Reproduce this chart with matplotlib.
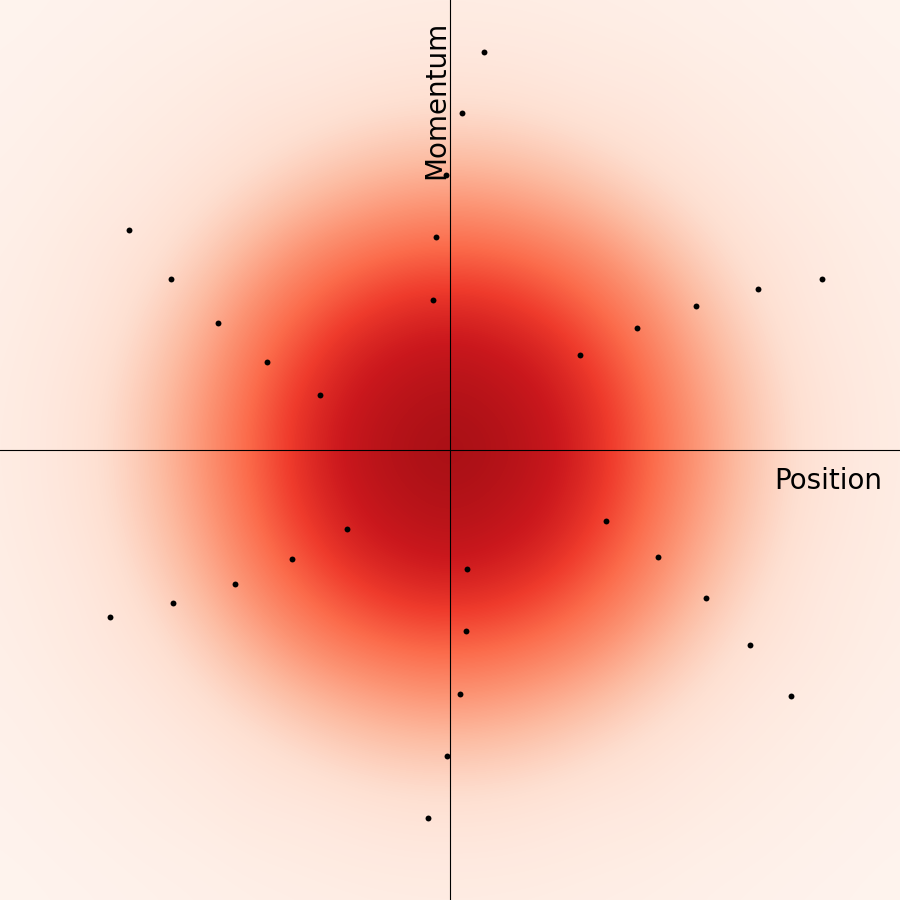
import numpy as np
import matplotlib
matplotlib.use('Agg')
import matplotlib.pyplot as plt

# estimated intensity, one cell every 50 px, top row first
density = [
 [.010,.015,.018,.025,.030,.036,.040,.045,.048,.050,.048,.045,.040,.036,.030,.025,.018,.015,.010],
 [.015,.020,.027,.035,.040,.052,.060,.070,.078,.080,.078,.070,.060,.052,.040,.035,.027,.020,.015],
 [.018,.027,.035,.045,.058,.078,.085,.100,.115,.120,.115,.100,.085,.078,.058,.045,.035,.027,.018],
 [.025,.035,.045,.060,.080,.105,.140,.180,.210,.220,.210,.180,.140,.105,.080,.060,.045,.035,.025],
 [.030,.040,.058,.080,.115,.170,.240,.300,.340,.360,.340,.300,.240,.170,.115,.080,.058,.040,.030],
 [.036,.052,.078,.105,.170,.270,.370,.440,.490,.510,.490,.440,.370,.270,.170,.105,.078,.052,.036],
 [.040,.060,.085,.140,.240,.370,.480,.580,.650,.670,.650,.580,.480,.370,.240,.140,.085,.060,.040],
 [.045,.070,.100,.180,.300,.440,.580,.700,.750,.780,.750,.700,.580,.440,.300,.180,.100,.070,.045],
 [.048,.078,.115,.210,.340,.490,.650,.750,.810,.840,.810,.750,.650,.490,.340,.210,.115,.078,.048],
 [.050,.080,.120,.220,.360,.510,.670,.780,.840,.870,.840,.780,.670,.510,.360,.220,.120,.080,.050],
 [.048,.078,.115,.210,.340,.490,.650,.750,.810,.840,.810,.750,.650,.490,.340,.210,.115,.078,.048],
 [.045,.070,.100,.180,.300,.440,.580,.700,.750,.780,.750,.700,.580,.440,.300,.180,.100,.070,.045],
 [.040,.060,.085,.140,.240,.370,.480,.580,.650,.670,.650,.580,.480,.370,.240,.140,.085,.060,.040],
 [.036,.052,.078,.105,.170,.270,.370,.440,.490,.510,.490,.440,.370,.270,.170,.105,.078,.052,.036],
 [.030,.040,.058,.080,.115,.170,.240,.300,.340,.360,.340,.300,.240,.170,.115,.080,.058,.040,.030],
 [.025,.035,.045,.060,.080,.105,.140,.180,.210,.220,.210,.180,.140,.105,.080,.060,.045,.035,.025],
 [.018,.027,.035,.045,.058,.078,.085,.100,.115,.120,.115,.100,.085,.078,.058,.045,.035,.027,.018],
 [.015,.020,.027,.035,.040,.052,.060,.070,.078,.080,.078,.070,.060,.052,.040,.035,.027,.020,.015],
 [.010,.015,.018,.025,.030,.036,.040,.045,.048,.050,.048,.045,.040,.036,.030,.025,.018,.015,.010],
]

position = [0.68, 0.24, -0.08, -0.28, -0.34,
            -6.42, -5.58, -4.64, -3.66, -2.60,
            7.44, 6.16, 4.92, 3.74, 2.60,
            3.12, 4.16, 5.12, 6.00, 6.82,
            -6.80, -5.54, -4.30, -3.16, -2.06,
            -0.44, -0.06, 0.20, 0.32, 0.34]
momentum = [7.96, 6.74, 5.50, 4.26, 3.00,
            4.40, 3.42, 2.54, 1.76, 1.10,
            3.42, 3.22, 2.88, 2.44, 1.90,
            -1.42, -2.14, -2.96, -3.90, -4.92,
            -3.34, -3.06, -2.68, -2.18, -1.58,
            -7.36, -6.12, -4.88, -3.62, -2.38]

fig = plt.figure(figsize=(9, 9), dpi=100)
ax = fig.add_axes([0, 0, 1, 1])
ax.imshow(np.array(density), cmap='Reds', vmin=0, vmax=1, origin='upper',
          extent=[-9.5, 9.5, -9.5, 9.5], interpolation='bicubic', aspect='auto')
ax.axhline(0, color='k', lw=0.8)
ax.axvline(0, color='k', lw=0.8)
ax.scatter(position, momentum, s=18, c='k', linewidths=0, zorder=3)
ax.text(6.48, -0.62, 'Position', fontsize=20, ha='left', va='center')
ax.text(-0.28, 7.0, 'Momentum', fontsize=20, rotation=90, ha='center', va='center')
ax.set_xlim(-9, 9)
ax.set_ylim(-9, 9)
ax.axis('off')
fig.savefig('out.png', dpi=100)
